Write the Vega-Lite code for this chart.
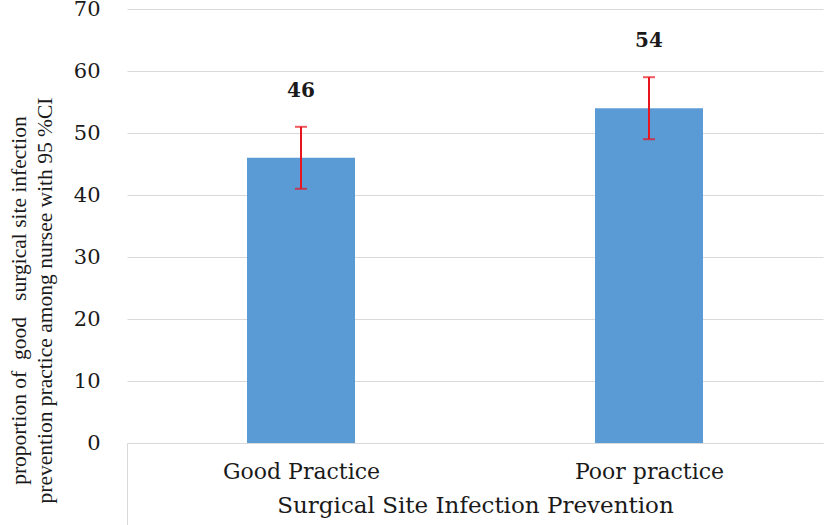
{
  "$schema": "https://vega.github.io/schema/vega-lite/v6.json",
  "autosize": "none",
  "width": 696,
  "height": 434,
  "padding": {"left": 127, "top": 9, "right": 1, "bottom": 82},
  "background": "white",
  "config": {"view": {"stroke": null}},
  "data": {
    "values": [
      {"practice": "Good Practice", "value": 46, "lower": 41, "upper": 51},
      {"practice": "Poor practice", "value": 54, "lower": 49, "upper": 59}
    ]
  },
  "encoding": {
    "x": {
      "field": "practice",
      "type": "nominal",
      "sort": null,
      "scale": {"paddingInner": 0, "paddingOuter": 0},
      "axis": {
        "title": "Surgical Site Infection Prevention",
        "titleFont": "DejaVu Serif",
        "titleFontSize": 23,
        "titleFontWeight": "normal",
        "titleColor": "#1a1a1a",
        "titleBaseline": "alphabetic",
        "titleY": 69,
        "labelAngle": 0,
        "labelFont": "DejaVu Serif",
        "labelFontSize": 22,
        "labelColor": "#1a1a1a",
        "labelBaseline": "alphabetic",
        "labelPadding": -47,
        "domainColor": "#d9d9d9",
        "domainWidth": 1,
        "tickBand": "extent",
        "tickSize": 82,
        "tickWidth": 1,
        "tickColor": {"condition": {"test": "datum.extra", "value": "#d9d9d9"}, "value": "transparent"}
      }
    }
  },
  "layer": [
    {
      "mark": {"type": "bar", "size": 108, "color": "#5b9bd5"},
      "encoding": {
        "y": {
          "field": "value",
          "type": "quantitative",
          "scale": {"domain": [0, 70], "nice": false},
          "axis": {
            "values": [0, 10, 20, 30, 40, 50, 60, 70],
            "title": ["proportion of\u00a0 good \u00a0 surgical site infection", "prevention practice among nursee with 95 %CI"],
            "titleFont": "Liberation Serif",
            "titleFontSize": 21.5,
            "titleFontWeight": "normal",
            "titleColor": "#1a1a1a",
            "titleLineHeight": 26,
            "titleAngle": -90,
            "titleBaseline": "top",
            "titleAlign": "center",
            "titleX": -119,
            "titleY": 291,
            "labelFont": "DejaVu Serif",
            "labelFontSize": 21,
            "labelColor": "#1a1a1a",
            "labelPadding": 27,
            "domain": false,
            "ticks": false,
            "gridColor": "#d9d9d9",
            "gridWidth": 1
          }
        }
      }
    },
    {
      "mark": {"type": "rule", "color": "#e8141e", "strokeWidth": 2},
      "encoding": {
        "y": {"field": "lower", "type": "quantitative"},
        "y2": {"field": "upper"}
      }
    },
    {
      "mark": {"type": "tick", "color": "#e8141e", "size": 12, "thickness": 2, "orient": "horizontal"},
      "encoding": {"y": {"field": "lower", "type": "quantitative"}}
    },
    {
      "mark": {"type": "tick", "color": "#e8141e", "size": 12, "thickness": 2, "orient": "horizontal"},
      "encoding": {"y": {"field": "upper", "type": "quantitative"}}
    },
    {
      "mark": {"type": "text", "font": "DejaVu Serif", "fontSize": 20, "fontWeight": "bold", "color": "#1a1a1a", "baseline": "middle", "dy": -36},
      "encoding": {
        "y": {"field": "upper", "type": "quantitative"},
        "text": {"field": "value", "type": "quantitative"}
      }
    }
  ]
}
